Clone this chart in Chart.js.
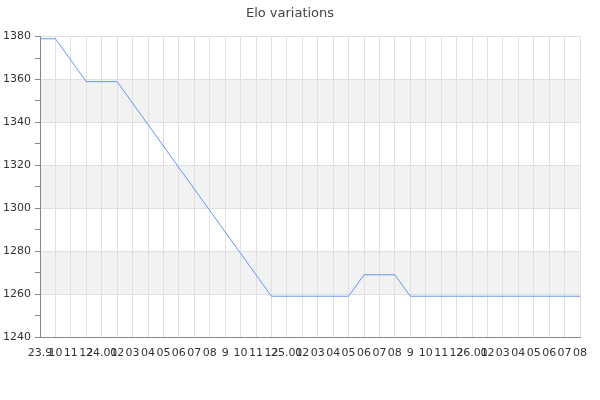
<!DOCTYPE html>
<html>
<head>
<meta charset="utf-8">
<script src="https://cdn.jsdelivr.net/npm/chart.js@4"></script>
<style>
  html, body { margin: 0; padding: 0; background: #fff; }
  #wrap { width: 600px; height: 400px; }
</style>
</head>
<body>
<div id="wrap"><canvas id="eloChart"></canvas></div>
<script>
// ──── data ────────────────────────────────────────────
const months = [
  "23.9", "10", "11", "12",
  "24.01", "02", "03", "04", "05", "06", "07", "08", "9", "10", "11", "12",
  "25.01", "02", "03", "04", "05", "06", "07", "08", "9", "10", "11", "12",
  "26.01", "02", "03", "04", "05", "06", "07", "08"
];
const eloValues = [
  1379, 1379, 1369, 1359,
  1359, 1359, 1349, 1339, 1329, 1319, 1309, 1299, 1289, 1279, 1269, 1259,
  1259, 1259, 1259, 1259, 1259, 1269, 1269, 1269, 1259, 1259, 1259, 1259,
  1259, 1259, 1259, 1259, 1259, 1259, 1259, 1259
];
const bandRanges = [[1260, 1280], [1300, 1320], [1340, 1360]];

// ──── band plugin ─────────────────────────────────────
const bands = {
  id: "bands",
  beforeDraw(chart) {
    const { ctx, chartArea: a, scales: { y } } = chart;
    ctx.save();
    ctx.fillStyle = "#f2f2f2";
    bandRanges.forEach(([lo, hi]) => {
      const top = y.getPixelForValue(hi);
      const bot = y.getPixelForValue(lo);
      ctx.fillRect(a.left, top, a.right - a.left, bot - top);
    });
    ctx.restore();
  }
};

const major = (v) => v % 20 === 0;

new Chart(document.getElementById("eloChart"), {
  type: "line",
  data: {
    labels: months,
    datasets: [{
      data: eloValues,
      borderColor: "#6495ed",
      borderWidth: 1,
      pointRadius: 0,
      tension: 0,
      fill: false
    }]
  },
  options: {
    responsive: true,
    maintainAspectRatio: false,
    animation: false,
    layout: { padding: { left: 0, right: 20, top: 0, bottom: 0 } },
    plugins: {
      legend: { display: false },
      tooltip: { enabled: false },
      title: {
        display: true,
        text: "Elo variations",
        color: "#444",
        font: { family: "DejaVu Sans", size: 13, weight: "normal" },
        padding: { top: 6, bottom: 15 }
      }
    },
    scales: {
      x: {
        offset: false,
        grid: { color: "#e0e0e0", drawTicks: false, offset: false },
        border: { color: "#888" },
        ticks: {
          autoSkip: false, maxRotation: 0, minRotation: 0, padding: 10,
          color: "#333",
          font: { family: "DejaVu Sans", size: 11 }
        },
        afterFit(s) { s.height = 63; }
      },
      y: {
        min: 1240,
        max: 1380,
        grid: {
          color: (c) => major(c.tick.value) ? "#e0e0e0" : "rgba(0,0,0,0)",
          tickColor: "#888",
          tickLength: 5
        },
        border: { color: "#888" },
        ticks: {
          stepSize: 10, padding: 4,
          color: "#333",
          font: { family: "DejaVu Sans", size: 11 },
          callback: (v) => major(v) ? v : ""
        },
        afterFit(s) { s.width = 40; }
      }
    }
  },
  plugins: [bands]
});
</script>
</body>
</html>
